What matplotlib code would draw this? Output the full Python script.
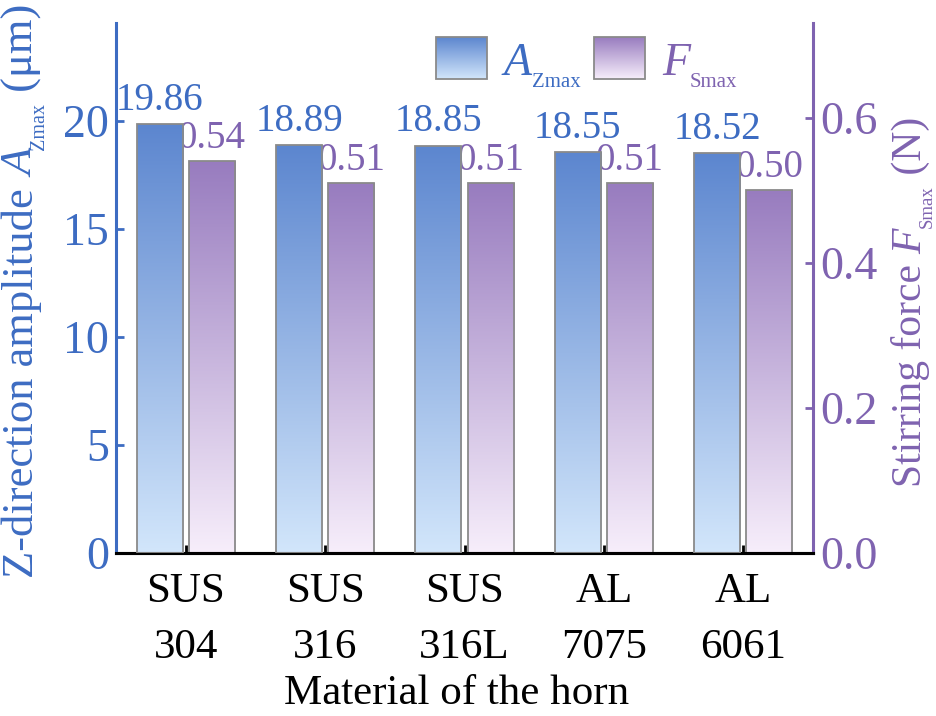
import matplotlib
matplotlib.use("Agg")
import matplotlib.pyplot as plt
import numpy as np
from matplotlib.colors import LinearSegmentedColormap

plt.rcParams["font.family"] = ["Liberation Serif", "DejaVu Serif"]

materials = ["SUS\n304", "SUS\n316", "SUS\n316L", "AL\n7075", "AL\n6061"]
a_zmax = [19.86, 18.89, 18.85, 18.55, 18.52]
f_smax = [0.54, 0.51, 0.51, 0.51, 0.50]
f_labels = ["0.54", "0.51", "0.51", "0.51", "0.50"]

W, H = 936, 716
blue_text = "#3d6cc2"
purple_text = "#7f63b0"
blue_cmap = LinearSegmentedColormap.from_list("b", ["#d2e6fb", "#5c86cf"])
purple_cmap = LinearSegmentedColormap.from_list("p", ["#f7eefb", "#987cbf"])

fig = plt.figure(figsize=(W / 100, H / 100), dpi=100)
ax = fig.add_axes([116 / W, 1 - 553 / H, (813 - 116) / W, 530 / H])
ax2 = ax.twinx()
renderer = fig.canvas.get_renderer()

x = np.arange(len(materials))
w = 0.33
off = 0.187


def gradient_bars(axis, xs, vals, cmap):
    bars = axis.bar(xs, vals, w, facecolor="none", edgecolor="#8a8a8a", lw=1.3, zorder=3)
    grad = np.linspace(0, 1, 256).reshape(-1, 1)
    for b in bars:
        x0, y0 = b.get_x(), b.get_y()
        im = axis.imshow(grad, cmap=cmap, origin="lower", aspect="auto",
                         extent=[x0, x0 + b.get_width(), y0, y0 + b.get_height()], zorder=2)
        im.set_clip_path(b)
    return bars


def rich_text(pieces, x_px, y_px, color, vertical=False):
    # pieces: (text, size, style, baseline shift in px)
    pos = 0.0
    for s, size, style, shift in pieces:
        if vertical:
            t = fig.text((x_px + shift) / W, 1 - (y_px - pos) / H, s, fontsize=size, style=style,
                         color=color, rotation=90, rotation_mode="anchor",
                         ha="left", va="baseline")
            pos += t.get_window_extent(renderer).height
        else:
            t = fig.text((x_px + pos) / W, 1 - (y_px + shift) / H, s, fontsize=size, style=style,
                         color=color, ha="left", va="baseline")
            pos += t.get_window_extent(renderer).width


gradient_bars(ax, x - off, a_zmax, blue_cmap)
gradient_bars(ax2, x + off, f_smax, purple_cmap)

ax.set_xlim(-0.5, 4.5)
ax.set_ylim(0, 24.54)
ax2.set_ylim(0, 0.731)

for xi, v in zip(x, a_zmax):
    ax.text(xi - off, v + 0.25, f"{v:.2f}", ha="center", va="bottom", fontsize=28, color=blue_text)
for xi, v, s in zip(x, f_smax, f_labels):
    ax2.text(xi + off, v + 0.006, s, ha="center", va="bottom", fontsize=28, color=purple_text)

ax.set_xticks(x)
ax.set_xticklabels(materials, fontsize=31, linespacing=1.6)
ax.set_yticks([0, 5, 10, 15, 20])
ax2.set_yticks([0.0, 0.2, 0.4, 0.6])
ax2.set_yticklabels(["0.0", "0.2", "0.4", "0.6"])

ax.tick_params(axis="x", direction="in", length=6, width=2, color="black", pad=14)
ax.tick_params(axis="y", direction="in", length=6, width=2, colors=blue_text, labelsize=33, pad=5)
ax2.tick_params(axis="y", direction="in", length=6, width=2, colors=purple_text, labelsize=33, pad=5)

for a in (ax, ax2):
    a.spines["top"].set_visible(False)
    for s in a.spines.values():
        s.set_linewidth(2.2)
ax.spines["left"].set_color(blue_text)
ax.spines["right"].set_visible(False)
ax2.spines["left"].set_visible(False)
ax2.spines["bottom"].set_color("black")
ax2.spines["right"].set_color(purple_text)

fig.text(457 / W, 1 - 704 / H, "Material of the horn", fontsize=31, ha="center", va="baseline")

rich_text([("Z-direction amplitude ", 32, "normal", 0), ("A", 32, "italic", 0),
           ("Zmax", 14.5, "normal", 11), (" (μm)", 32, "normal", 0)],
          33, 578, blue_text, vertical=True)
rich_text([("Stirring force ", 30, "normal", 0), ("F", 30, "italic", 0),
           ("Smax", 13.5, "normal", 11), (" (N)", 30, "normal", 0)],
          921, 487, purple_text, vertical=True)

# legend with gradient swatches
grad = np.linspace(0, 1, 256).reshape(-1, 1)
legend_items = [(blue_cmap, "A", "Zmax", blue_text, 436), (purple_cmap, "F", "Smax", purple_text, 594)]
for cmap, main, sub, col, px in legend_items:
    x0 = (px - 116) / 697
    x1 = (px + 51 - 116) / 697
    y0 = (553 - 79) / 530
    y1 = (553 - 37) / 530
    ax2.imshow(grad, cmap=cmap, origin="lower", aspect="auto", extent=[x0, x1, y0, y1],
               transform=ax2.transAxes, zorder=5, clip_on=False)
    ax2.add_patch(plt.Rectangle((x0, y0), x1 - x0, y1 - y0, transform=ax2.transAxes,
                                fill=False, edgecolor="#8a8a8a", lw=1.3, zorder=6, clip_on=False))
    rich_text([(main, 33, "italic", 0), (sub, 15, "normal", 12)], px + 68, 75, col)

ax.set_zorder(ax2.get_zorder() + 1)
ax.patch.set_visible(False)

fig.savefig("out.png", dpi=100)
